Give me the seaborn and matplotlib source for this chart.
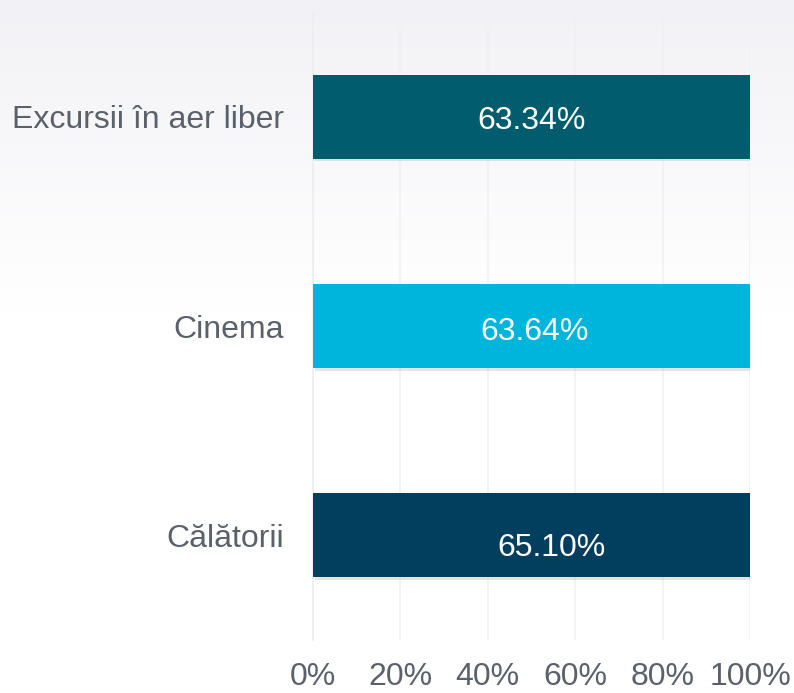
import matplotlib
matplotlib.use("Agg")
import matplotlib.pyplot as plt
import matplotlib.patheffects as pe
import numpy as np
import pandas as pd
import seaborn as sns

# chart data
categories = ["Excursii în aer liber", "Cinema", "Călătorii"]
bar_totals = [100, 100, 100]
shares = [63.34, 63.64, 65.10]
bar_colors = ["#015c6d", "#00b5dc", "#023f5e"]
x_ticks = [0, 20, 40, 60, 80, 100]
x_tick_labels = ["0%", "20%", "40%", "60%", "80%", "100%"]

# label placement nudges (axis fraction / category units)
label_x = [50.0, 50.6, 54.6]
label_dy = [0.02, 0.03, 0.06]

TEXT = "#5b616b"
FS = 23

sns.set_theme(style="white")
plt.rcParams["font.family"] = ["Liberation Sans", "DejaVu Sans"]

fig = plt.figure(figsize=(7.94, 6.93), dpi=100)

# soft background gradient from light grey-blue at the top to white
bg = fig.add_axes([0, 0, 1, 1], zorder=0)
h = 400
top = np.array([0xf2, 0xf2, 0xf6]) / 255.0
frac = np.clip(np.linspace(0, 1, h) / 0.45, 0, 1)[:, None]
grad = top * (1 - frac) + np.ones(3) * frac
bg.imshow(np.repeat(grad[:, None, :], 2, axis=1), aspect="auto",
          extent=[0, 1, 0, 1], origin="upper")
bg.set_axis_off()

ax = fig.add_axes([313 / 794, 53 / 693, 437 / 794, 628 / 693], zorder=1)
ax.patch.set_alpha(0)

df = pd.DataFrame({"category": categories, "total": bar_totals})
sns.barplot(data=df, x="total", y="category", hue="category",
            palette=bar_colors, saturation=1, orient="h", width=0.4,
            legend=False, ax=ax, zorder=3)

for p in ax.patches:
    p.set_linewidth(0)
    p.set_path_effects([pe.SimplePatchShadow(offset=(1.5, -2), shadow_rgbFace="#9a9a9a",
                                             alpha=0.25), pe.Normal()])

for i, (val, xl, dy) in enumerate(zip(shares, label_x, label_dy)):
    ax.text(xl, i + dy, f"{val:.2f}%", ha="center", va="center",
            color="white", fontsize=FS, zorder=5)

ax.set_xlim(0, 100)
ax.set_ylim(2.5, -0.5)
ax.set_xticks(x_ticks)
ax.set_xticklabels(x_tick_labels)
ax.set_xlabel("")
ax.set_ylabel("")
ax.tick_params(axis="x", length=0, pad=16, labelsize=FS, labelcolor=TEXT)
ax.tick_params(axis="y", length=0, pad=21, labelsize=FS, labelcolor=TEXT)

ax.grid(axis="x", color="#f1f1f3", linewidth=1.2, zorder=0)
ax.set_axisbelow(True)
for side in ["top", "right", "bottom"]:
    ax.spines[side].set_visible(False)
ax.spines["left"].set_color("#eeeef1")
ax.spines["left"].set_linewidth(1.2)

fig.savefig("out.png", dpi=100)
